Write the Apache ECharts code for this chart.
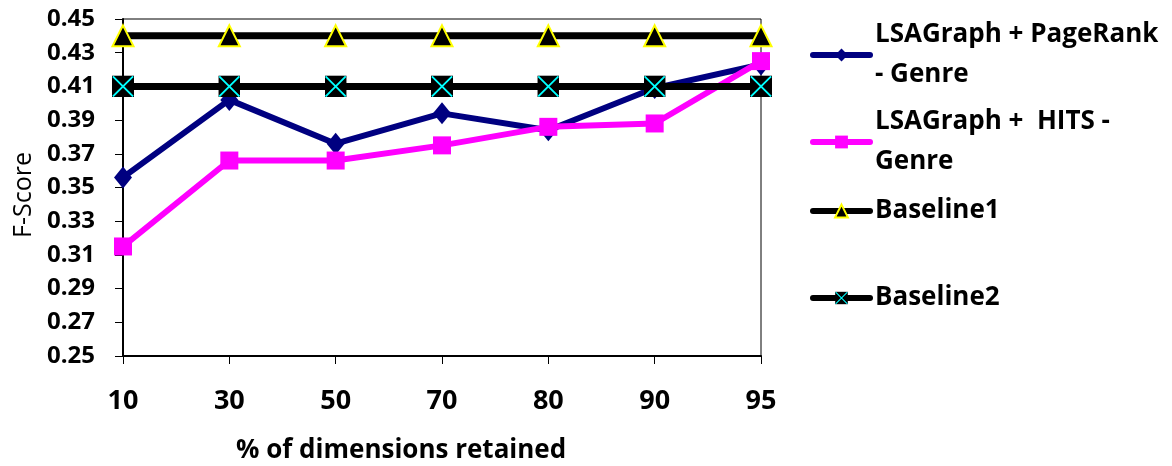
<!DOCTYPE html>
<html><head><meta charset="utf-8">
<script src="https://cdn.jsdelivr.net/npm/echarts@6/dist/echarts.min.js"></script>
<style>html,body{margin:0;padding:0;background:#fff}#c{width:1172px;height:466px}</style>
</head><body><div id="c"></div>
<script>
const categories = ['10','30','50','70','80','90','95'];
const pageRank = [0.356, 0.402, 0.376, 0.394, 0.384, 0.409, 0.423];
const hits = [0.315, 0.366, 0.366, 0.375, 0.386, 0.388, 0.425];
const baseline1 = [0.44, 0.44, 0.44, 0.44, 0.44, 0.44, 0.44];
const baseline2 = [0.41, 0.41, 0.41, 0.41, 0.41, 0.41, 0.41];
const names = ['LSAGraph + PageRank\n- Genre', 'LSAGraph +  HITS -\nGenre', 'Baseline1', 'Baseline2'];

const F = '"Open Sans", sans-serif';
const xSvg = 'image://data:image/svg+xml;utf8,' + encodeURIComponent(
  '<svg xmlns="http://www.w3.org/2000/svg" width="24" height="24" viewBox="0 0 24 24"><rect x="0" y="0" width="24" height="24" fill="#000"/><path d="M1 1L23 23M23 1L1 23" stroke="#00ffff" stroke-width="2"/></svg>');

const chart = echarts.init(document.getElementById('c'));
const legendBase = {orient:'vertical', left: 810, padding:0, itemWidth: 57, itemHeight: 16, itemGap: 10,
  lineStyle:{width:6, cap:'round'},
  textStyle:{fontFamily:F, fontWeight:'bold', fontSize:26, color:'#000', lineHeight:40}};
chart.setOption({
  animation:false,
  backgroundColor:'#fff',
  title:{text:'% of dimensions retained', left:236, top:438, padding:0,
    textStyle:{fontFamily:F, fontWeight:'bold', fontSize:26, color:'#000'}},
  grid:{left:123, top:19, right:411, bottom:110, show:true, borderColor:'#000', borderWidth:1,
    outerBoundsMode:'none', containLabel:false},
  legend:[
    Object.assign({}, legendBase, {top:15, data:[names[0]]}),
    Object.assign({}, legendBase, {top:102, data:[names[1]]}),
    Object.assign({}, legendBase, {top:191, data:[names[2]]}),
    Object.assign({}, legendBase, {top:278, data:[names[3]]})
  ],
  xAxis:{type:'category', data:categories, boundaryGap:false,
    axisLine:{lineStyle:{color:'#000', width:2}},
    axisTick:{show:true, length:8, lineStyle:{color:'#000', width:1}},
    axisLabel:{fontFamily:F, fontWeight:'bold', fontSize:27, color:'#000', margin:32},
    splitLine:{show:false}},
  yAxis:{type:'value', min:0.25, max:0.45, interval:0.02,
    name:'F-Score', nameLocation:'middle', nameGap:86,
    nameTextStyle:{fontFamily:F, fontSize:25, color:'#000', padding:[0,15,0,0]},
    axisLine:{show:true, lineStyle:{color:'#000', width:2}},
    axisTick:{show:true, length:8, lineStyle:{color:'#000', width:1}},
    axisLabel:{fontFamily:F, fontWeight:'bold', fontSize:24, color:'#000', margin:28,
      formatter:v=>v.toFixed(2)},
    splitLine:{show:false}},
  series:[
    {name:names[0], type:'line', data:pageRank, symbol:'diamond', symbolSize:[18,22],
      lineStyle:{color:'#000080', width:6}, itemStyle:{color:'#000080'}, z:2},
    {name:names[1], type:'line', data:hits, symbol:'rect', symbolSize:18,
      lineStyle:{color:'#ff00ff', width:6}, itemStyle:{color:'#ff00ff'}, z:3},
    {name:names[2], type:'line', data:baseline1, symbol:'triangle', symbolSize:[21,21],
      lineStyle:{color:'#000', width:7}, itemStyle:{color:'#000', borderColor:'#ffff00', borderWidth:2}, z:4},
    {name:names[3], type:'line', data:baseline2, symbol:xSvg, symbolSize:22,
      lineStyle:{color:'#000', width:7}, itemStyle:{color:'#000'}, z:5}
  ]
});
</script></body></html>
